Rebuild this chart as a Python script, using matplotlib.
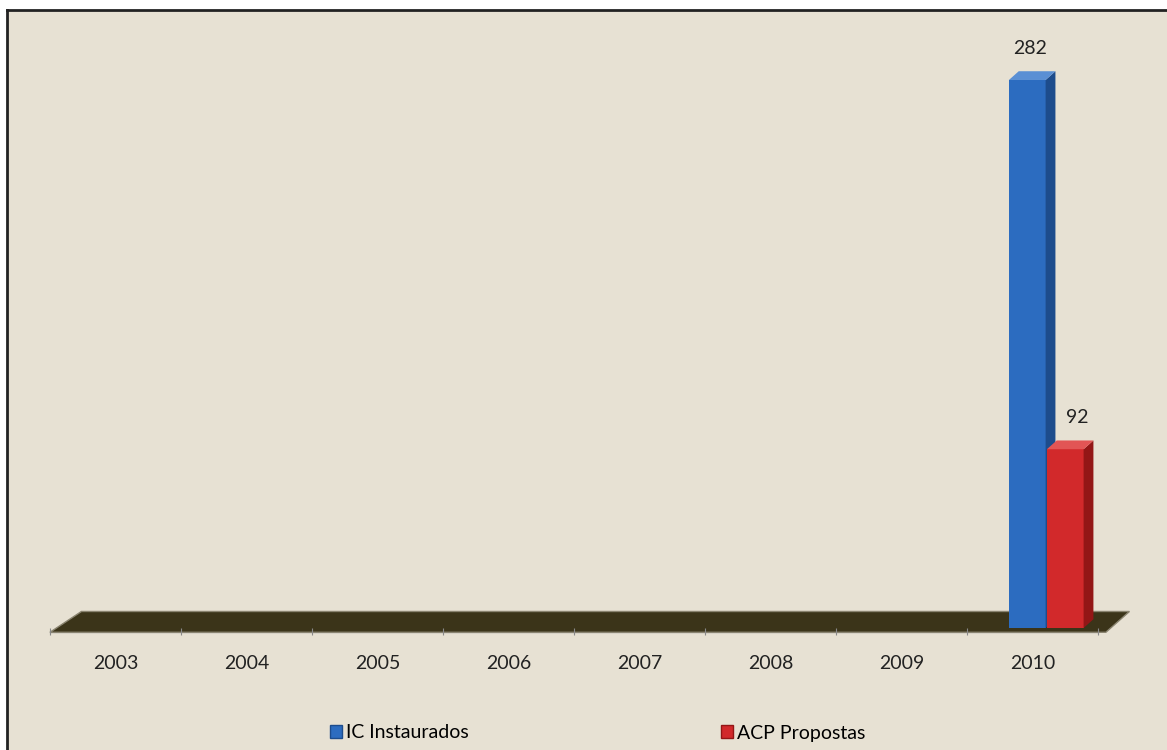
import matplotlib.pyplot as plt
from matplotlib.patches import Polygon, Patch
from matplotlib.lines import Line2D

# dados
anos = ['2003', '2004', '2005', '2006', '2007', '2008', '2009', '2010']
ic_instaurados = [0, 0, 0, 0, 0, 0, 0, 282]
acp_propostas = [0, 0, 0, 0, 0, 0, 0, 92]
series_nomes = ['IC Instaurados', 'ACP Propostas']

plt.rcParams['font.family'] = ['Lato', 'DejaVu Sans']

fundo = '#e7e1d3'
azul = ('#2c6cc0', '#1d4c8c', '#5a8fd4')     # frente, lado, topo
vermelho = ('#d2292b', '#931616', '#e25555')

fig = plt.figure(figsize=(11.67, 7.5), dpi=100)
fig.patch.set_facecolor('white')
# fundo com borda preta em cima e a esquerda
fig.patches.append(Polygon([[7/1167, 0], [7/1167, 1-10/750], [1, 1-10/750], [1, 0]],
                           closed=True, transform=fig.transFigure, facecolor=fundo,
                           edgecolor='none', zorder=-10))
fig.add_artist(Line2D([7/1167, 7/1167], [0, 1-10/750], color='#222222', lw=2))
fig.add_artist(Line2D([7/1167, 1], [1-10/750, 1-10/750], color='#222222', lw=2))

ax = fig.add_axes([50/1167, 122/750, 1048/1167, 583/750])
ax.set_facecolor('none')
ax.set_xlim(-0.5, len(anos) - 0.5)
ax.set_ylim(0, 300)

# profundidade 3D (unidades de dados)
dx, dy = 0.075, 4.5

# chao
fdx = 0.24
chao = Polygon([[-0.5, -2.2], [-0.5 + fdx, 8.5], [len(anos) - 0.5 + fdx, 8.5],
                [len(anos) - 0.5 + 0.06, -2.2]], closed=True,
               facecolor='#3b3419', edgecolor='#8a8470', lw=1, clip_on=False, zorder=1)
ax.add_patch(chao)

largura = 0.28
offsets = [-0.04, 0.25]
rotulo_off = [0.02, 0.09]
for serie, off, roff, cores in zip([ic_instaurados, acp_propostas], offsets, rotulo_off, [azul, vermelho]):
    xs = [i + off for i in range(len(anos))]
    for x, v in zip(xs, serie):
        if v <= 0:
            continue
        x0, x1 = x - largura / 2, x + largura / 2
        ax.bar(x, v, width=largura, bottom=0, color=cores[0], zorder=3)
        ax.add_patch(Polygon([[x1, 0], [x1 + dx, dy], [x1 + dx, v + dy], [x1, v]],
                             closed=True, facecolor=cores[1], edgecolor='none', zorder=3))
        ax.add_patch(Polygon([[x0, v], [x0 + dx, v + dy], [x1 + dx, v + dy], [x1, v]],
                             closed=True, facecolor=cores[2], edgecolor='none', zorder=3))
        ax.text(x + roff, v + 12, str(v), ha='center', va='bottom', fontsize=14, color='#222222')

for s in ax.spines.values():
    s.set_visible(False)
ax.set_yticks([])
ax.set_xticks([i - 0.5 for i in range(len(anos) + 1)], minor=False)
ax.set_xticklabels([])
ax.tick_params(axis='x', length=5, color='#888888', direction='out', pad=0)
for i, a in enumerate(anos):
    ax.text(i, -14, a, ha='center', va='top', fontsize=14, color='#222222')
ax.plot([-0.5, len(anos) - 0.5], [-2.2, -2.2], color='#999999', lw=1, clip_on=False, zorder=0)

handles = [Patch(facecolor=azul[0], edgecolor=azul[1]), Patch(facecolor=vermelho[0], edgecolor=vermelho[1])]
fig.legend(handles, series_nomes, loc='lower center', bbox_to_anchor=(0.512, -0.012), ncol=2,
           frameon=False, fontsize=14, handlelength=0.6, handleheight=0.6, handletextpad=0.2,
           columnspacing=13)

fig.savefig('out.png', dpi=100, facecolor=fig.get_facecolor())
